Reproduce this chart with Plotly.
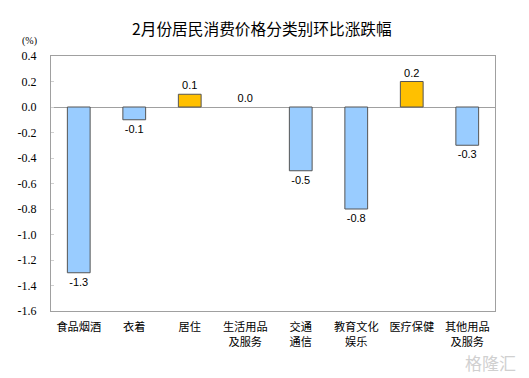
import plotly.graph_objects as go

categories = ["食品烟酒", "衣着", "居住", "生活用品<br>及服务", "交通<br>通信", "教育文化<br>娱乐", "医疗保健", "其他用品<br>及服务"]
values = [-1.3, -0.1, 0.1, 0.0, -0.5, -0.8, 0.2, -0.3]
tick_vals = [0.4, 0.2, 0.0, -0.2, -0.4, -0.6, -0.8, -1.0, -1.2, -1.4, -1.6]
tick_text = ["0.4", "0.2", "0.0", "-0.2", "-0.4", "-0.6", "-0.8", "-1.0", "-1.2", "-1.4", "-1.6"]

colors = ["#FFC000" if v > 0 else "#99CCFF" for v in values]
line_widths = [0 if v == 0 else 1 for v in values]
labels = [f"{v:.1f}" for v in values]

fig = go.Figure(go.Bar(
    x=list(range(len(categories))), y=values,
    marker=dict(color=colors, line=dict(color="#555555", width=line_widths)),
    width=0.41,
    text=labels, textposition="outside", cliponaxis=False,
    textfont=dict(family="Liberation Sans", size=11, color="#000000"),
    hoverinfo="skip",
))

fig.update_layout(
    width=529, height=378,
    margin=dict(l=51, r=34, t=56, b=67),
    paper_bgcolor="white", plot_bgcolor="white",
    showlegend=False,
    title=dict(text="2月份居民消费价格分类别环比涨跌幅", x=0.495, xanchor="center", y=0.922, yanchor="middle",
               font=dict(family="Noto Sans CJK SC", size=15.7, color="#000000")),
    xaxis=dict(tickmode="array", tickvals=list(range(len(categories))), ticktext=categories,
               range=[-0.5, len(categories) - 0.5], showgrid=False, zeroline=False,
               showline=True, linecolor="#A0A0A0", linewidth=1, mirror=True, ticks="",
               ticklabelstandoff=6,
               tickfont=dict(family="Noto Sans CJK SC", size=11.2, color="#000000")),
    yaxis=dict(tickmode="array", tickvals=tick_vals, ticktext=tick_text, range=[-1.6, 0.4],
               showgrid=False, zeroline=True, zerolinecolor="#A0A0A0", zerolinewidth=1,
               showline=True, linecolor="#A0A0A0", linewidth=1, mirror=True,
               ticks="inside", ticklen=3, tickcolor="#D0D0D0", ticklabelstandoff=11,
               tickfont=dict(family="Liberation Serif", size=12, color="#000000")),
    annotations=[
        dict(text="(%)", x=(20 - 51) / 444, y=(311 - 41) / 255, xref="paper", yref="paper", showarrow=False,
             xanchor="left", yanchor="middle", font=dict(family="Liberation Serif", size=10, color="#000000")),
        dict(text="格隆汇", x=(490 - 51) / 444, y=(311 - 362) / 255, xref="paper", yref="paper", showarrow=False,
             xanchor="center", yanchor="middle",
             font=dict(family="Noto Sans CJK SC", size=17, color="#D0D0D0")),
    ],
)

fig.write_html("out.html", config={"displayModeBar": False},
               post_script="document.body.style.margin='0';")
